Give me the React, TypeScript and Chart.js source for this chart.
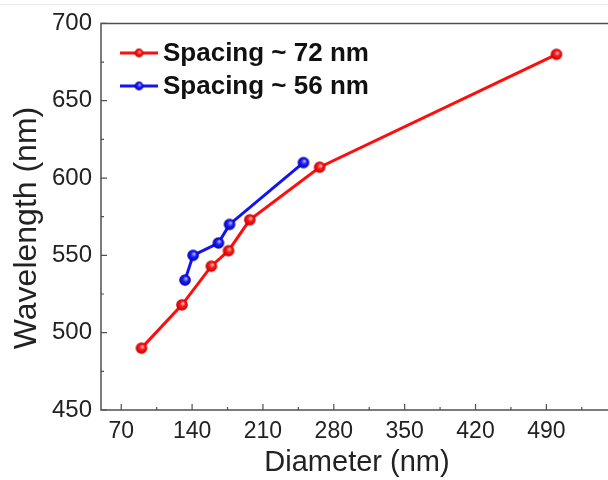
import React, { useEffect, useRef } from "react";
import { Chart, registerables } from "chart.js";

Chart.register(...registerables);

// ---- data ----
const seriesLabels = ["Spacing ~ 72 nm", "Spacing ~ 56 nm"];
const spacing72Diameter = [90, 130, 159, 176, 197, 266, 500];
const spacing72Wavelength = [490, 518, 543, 553, 573, 607, 680];
const spacing56Diameter = [133, 141, 166, 177, 250];
const spacing56Wavelength = [534, 550, 558, 570, 610];
const xTickValues = [70, 140, 210, 280, 350, 420, 490];
const xMinorTickValues = [105, 175, 245, 315, 385, 455, 525];
const yTickValues = [450, 500, 550, 600, 650, 700];
const yMinorTickValues = [475, 525, 575, 625, 675];
const xTitle = "Diameter (nm)";
const yTitle = "Wavelength (nm)";

const FONT = '"Liberation Sans", Arial, Helvetica, sans-serif';
const AXIS = "#505050";
const TEXT = "#222222";
const RED = "#ff0d0d";
const BLUE = "#1414f0";

function makeBall(r: number, light: string, mid: string, dark: string) {
  const c = document.createElement("canvas");
  const s = Math.ceil(r * 2 + 2);
  c.width = s;
  c.height = s;
  const g = c.getContext("2d")!;
  const cx = s / 2;
  const cy = s / 2;
  const grad = g.createRadialGradient(cx + r * 0.2, cy - r * 0.3, 0, cx, cy, r);
  grad.addColorStop(0, light);
  grad.addColorStop(0.45, mid);
  grad.addColorStop(1, dark);
  g.fillStyle = grad;
  g.beginPath();
  g.arc(cx, cy, r, 0, Math.PI * 2);
  g.fill();
  return c;
}

export default function App() {
  const ref = useRef<HTMLCanvasElement | null>(null);

  useEffect(() => {
    if (!ref.current) return;
    const redBall = makeBall(5.8, "#ffd6d6", "#ff1a1a", "#c40000");
    const blueBall = makeBall(5.8, "#d0d0ff", "#2020ff", "#0000a8");
    const redBallSmall = makeBall(4.4, "#ffd6d6", "#ff1a1a", "#c40000");
    const blueBallSmall = makeBall(4.4, "#d0d0ff", "#2020ff", "#0000a8");

    const decor = {
      id: "decor",
      afterDraw(chart: any) {
        const ctx = chart.ctx;
        const { left, top, bottom } = chart.chartArea;
        const xs = chart.scales.x;
        const ys = chart.scales.y;
        ctx.save();
        // faint top line of the picture
        ctx.strokeStyle = "#ececec";
        ctx.lineWidth = 1;
        ctx.beginPath();
        ctx.moveTo(0, 4.5);
        ctx.lineTo(chart.width, 4.5);
        ctx.stroke();
        // axes box (left, bottom, top)
        ctx.strokeStyle = AXIS;
        ctx.lineWidth = 1.5;
        ctx.beginPath();
        ctx.moveTo(chart.width, top);
        ctx.lineTo(left, top);
        ctx.lineTo(left, bottom);
        ctx.lineTo(chart.width, bottom);
        ctx.stroke();
        // ticks (inward)
        ctx.lineWidth = 1.2;
        ctx.beginPath();
        xTickValues.forEach((v) => {
          const p = xs.getPixelForValue(v);
          ctx.moveTo(p, bottom);
          ctx.lineTo(p, bottom - 6);
        });
        xMinorTickValues.forEach((v) => {
          const p = xs.getPixelForValue(v);
          ctx.moveTo(p, bottom);
          ctx.lineTo(p, bottom - 3);
        });
        yTickValues.forEach((v) => {
          const p = ys.getPixelForValue(v);
          ctx.moveTo(left, p);
          ctx.lineTo(left + 6, p);
        });
        yMinorTickValues.forEach((v) => {
          const p = ys.getPixelForValue(v);
          ctx.moveTo(left, p);
          ctx.lineTo(left + 3, p);
        });
        ctx.stroke();
        // axis titles
        ctx.fillStyle = TEXT;
        ctx.font = `29px ${FONT}`;
        ctx.textAlign = "center";
        ctx.textBaseline = "alphabetic";
        ctx.fillText(xTitle, 357, 471);
        ctx.save();
        ctx.translate(36, 228);
        ctx.rotate(-Math.PI / 2);
        ctx.font = `32px ${FONT}`;
        ctx.fillText(yTitle, 0, 0);
        ctx.restore();
        // legend
        const items = [
          { label: seriesLabels[0], color: RED, ball: redBallSmall, y: 53 },
          { label: seriesLabels[1], color: BLUE, ball: blueBallSmall, y: 86 },
        ];
        items.forEach((it) => {
          ctx.strokeStyle = it.color;
          ctx.lineWidth = 3;
          ctx.beginPath();
          ctx.moveTo(120, it.y);
          ctx.lineTo(158, it.y);
          ctx.stroke();
          ctx.drawImage(it.ball, 139 - it.ball.width / 2, it.y - it.ball.height / 2);
          ctx.fillStyle = "#111";
          ctx.font = `bold 26px ${FONT}`;
          ctx.textAlign = "left";
          ctx.textBaseline = "middle";
          ctx.fillText(it.label, 163, it.y + 1);
        });
        ctx.restore();
      },
    };

    const chart = new Chart(ref.current, {
      type: "line",
      data: {
        datasets: [
          {
            label: seriesLabels[0],
            data: spacing72Diameter.map((x, i) => ({ x, y: spacing72Wavelength[i] })),
            borderColor: RED,
            backgroundColor: RED,
            borderWidth: 3,
            pointStyle: redBall as any,
            pointRadius: 6,
            tension: 0,
          },
          {
            label: seriesLabels[1],
            data: spacing56Diameter.map((x, i) => ({ x, y: spacing56Wavelength[i] })),
            borderColor: BLUE,
            backgroundColor: BLUE,
            borderWidth: 3,
            pointStyle: blueBall as any,
            pointRadius: 6,
            tension: 0,
          },
        ],
      },
      options: {
        animation: false,
        responsive: false,
        layout: { padding: { top: 20, left: 0, right: 0, bottom: 0 } },
        plugins: { legend: { display: false }, tooltip: { enabled: false } },
        scales: {
          x: {
            type: "linear",
            min: 50,
            max: 542,
            grid: { display: false, drawTicks: false },
            border: { display: false },
            afterBuildTicks: (s: any) => {
              s.ticks = xTickValues.map((v) => ({ value: v }));
            },
            afterFit: (s: any) => {
              s.height = 70;
            },
            ticks: {
              font: { family: FONT, size: 23 },
              color: TEXT,
              padding: 8,
              maxRotation: 0,
              autoSkip: false,
            },
          },
          y: {
            type: "linear",
            min: 450,
            max: 700,
            grid: { display: false, drawTicks: false },
            border: { display: false },
            afterBuildTicks: (s: any) => {
              s.ticks = yTickValues.map((v) => ({ value: v }));
            },
            afterFit: (s: any) => {
              s.width = 101;
            },
            ticks: {
              font: { family: FONT, size: 24 },
              color: TEXT,
              padding: 9,
              autoSkip: false,
            },
          },
        },
      },
      plugins: [decor],
    });
    return () => chart.destroy();
  }, []);

  return (
    <div style={{ position: "absolute", left: 0, top: 0, width: 608, height: 480, background: "#fff" }}>
      <canvas ref={ref} width={608} height={480} style={{ width: 608, height: 480 }} />
    </div>
  );
}
